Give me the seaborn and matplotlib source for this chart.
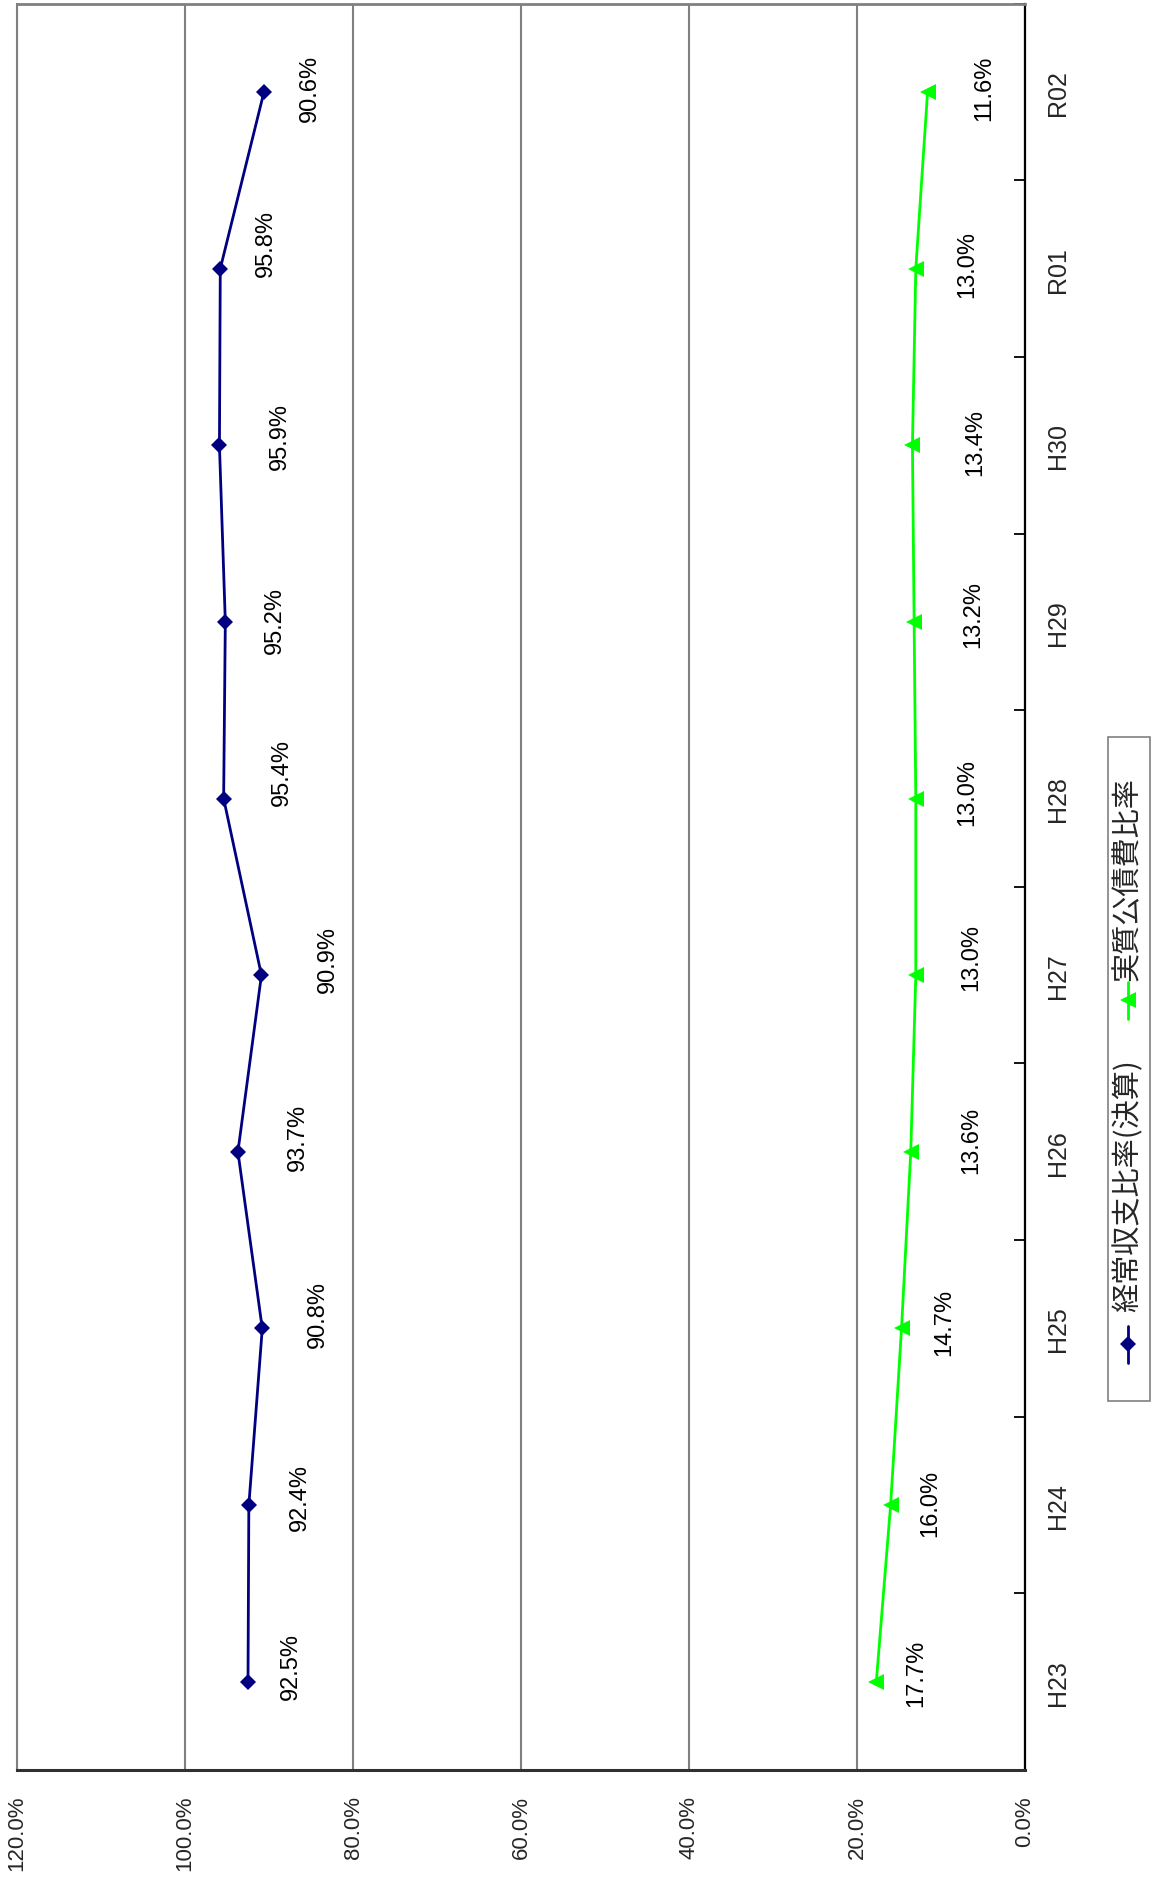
import numpy as np
import pandas as pd
import matplotlib
matplotlib.use("Agg")
import matplotlib.pyplot as plt
import seaborn as sns
from matplotlib.lines import Line2D
from matplotlib.patches import Rectangle

# ---- data ----
categories = ['H23', 'H24', 'H25', 'H26', 'H27', 'H28', 'H29', 'H30', 'R01', 'R02']
keijo = [92.5, 92.4, 90.8, 93.7, 90.9, 95.4, 95.2, 95.9, 95.8, 90.6]
kousai = [17.7, 16.0, 14.7, 13.6, 13.0, 13.0, 13.2, 13.4, 13.0, 11.6]
value_ticks = [0, 20, 40, 60, 80, 100, 120]
series_names = ['経常収支比率(決算)', '実質公債費比率']

# ---- label placement (pixels, relative to point) ----
keijo_dx = [43, 51, 56, 60, 66, 58, 50, 60, 46, 46]
keijo_dy = [16, 9, 15, 15, 17, 27, 2, 10, 26, 5]
kousai_dx = [40, 40, 43, 60, 55, 51, 59, 63, 51, 57]
kousai_dy = [9, 3, 7, 12, 19, 7, 8, 4, 5, 5]

NAVY = '#000080'
GREEN = '#00FF00'
GRAY = '#808080'

sns.set_style('white')
plt.rcParams['font.family'] = ['Liberation Sans', 'Noto Sans CJK JP', 'DejaVu Sans']

W, H = 1154, 1881
fig = plt.figure(figsize=(W / 100, H / 100), dpi=100)
fig.patch.set_facecolor('white')

def fx(px):
    return px / W

def fy(py):
    return 1 - py / H

ax = fig.add_axes([fx(17), fy(1771), (1025 - 17) / W, (1771 - 4.7) / H])

pos = np.arange(len(categories))
df = pd.DataFrame({'cat': categories, 'pos': pos, 'keijo': keijo, 'kousai': kousai})

sns.lineplot(data=df, x='keijo', y='pos', orient='y', sort=False, estimator=None,
             color=NAVY, marker='D', markersize=8.3, markeredgewidth=0,
             linewidth=2.0, ax=ax, zorder=3)
sns.lineplot(data=df, x='kousai', y='pos', orient='y', sort=False, estimator=None,
             color=GREEN, marker='<', markersize=11, markeredgewidth=0,
             linewidth=2.0, ax=ax, zorder=3)

ax.set_xlim(120, 0)
ax.set_ylim(-0.5, len(categories) - 0.5)
ax.set_xlabel('')
ax.set_ylabel('')

# value axis (bottom)
ax.set_xticks(value_ticks)
ax.set_xticklabels([f'{v:.1f}%' for v in value_ticks], rotation=90,
                   fontsize=16, va='top', ha='center')
ax.tick_params(axis='x', length=0, pad=18)
ax.xaxis.grid(True, color=GRAY, linewidth=1.5)
ax.yaxis.grid(False)
ax.set_axisbelow(True)

# category axis (right)
ax.yaxis.tick_right()
ax.set_yticks(pos)
ax.set_yticklabels(categories, rotation=90, fontsize=18, va='center', ha='left')
ax.set_yticks(np.arange(-0.5, len(categories), 1.0), minor=True)
ax.tick_params(axis='y', which='major', length=0, pad=15)
ax.tick_params(axis='y', which='minor', direction='in', length=8, width=1.3,
               color='black', right=True, left=False)

for side, col, lw in [('top', GRAY, 2.0), ('left', GRAY, 1.5),
                      ('bottom', '#303030', 2.2), ('right', 'black', 1.6)]:
    ax.spines[side].set_visible(True)
    ax.spines[side].set_color(col)
    ax.spines[side].set_linewidth(lw)

# data labels
for i, v in enumerate(keijo):
    ax.annotate(f'{v:.1f}%', (v, pos[i]), xytext=(keijo_dx[i], keijo_dy[i]),
                textcoords='offset pixels', rotation=90, ha='center', va='center',
                fontsize=17, color='black')
for i, v in enumerate(kousai):
    ax.annotate(f'{v:.1f}%', (v, pos[i]), xytext=(kousai_dx[i], kousai_dy[i]),
                textcoords='offset pixels', rotation=90, ha='center', va='center',
                fontsize=17, color='black')

# legend (rotated, drawn in figure coordinates)
fig.add_artist(Rectangle((fx(1108), fy(1402)), (1150 - 1108) / W, (1402 - 738) / H,
                         transform=fig.transFigure, facecolor='white',
                         edgecolor=GRAY, linewidth=1.2, zorder=5))
lx = fx(1128)
fig.add_artist(Line2D([lx, lx], [fy(1364), fy(1327)], color=NAVY, linewidth=2.0,
                      transform=fig.transFigure, zorder=6))
fig.add_artist(Line2D([lx], [fy(1345)], color=NAVY, marker='D', markersize=8.3,
                      markeredgewidth=0, transform=fig.transFigure, zorder=7))
fig.text(lx, fy(1312), series_names[0], rotation=90, ha='center', va='bottom',
         fontsize=21, family=['Noto Sans CJK JP', 'DejaVu Sans'], zorder=7)
fig.add_artist(Line2D([lx, lx], [fy(1020), fy(983)], color=GREEN, linewidth=2.0,
                      transform=fig.transFigure, zorder=6))
fig.add_artist(Line2D([lx], [fy(1001)], color=GREEN, marker='<', markersize=11,
                      markeredgewidth=0, transform=fig.transFigure, zorder=7))
fig.text(lx, fy(981), series_names[1], rotation=90, ha='center', va='bottom',
         fontsize=21, family=['Noto Sans CJK JP', 'DejaVu Sans'], zorder=7)

fig.savefig('out.png', dpi=100, facecolor='white')
